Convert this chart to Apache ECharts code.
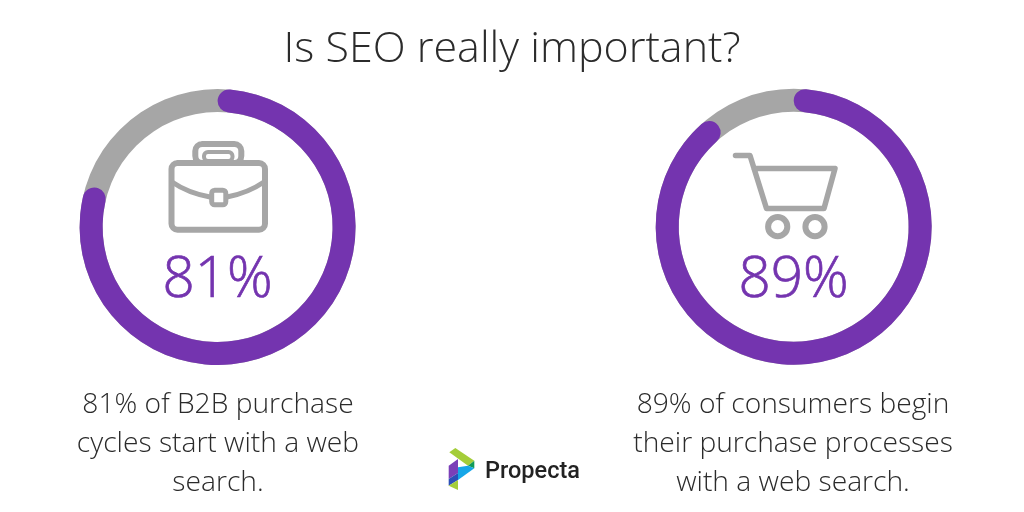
<!DOCTYPE html>
<html>
<head>
<meta charset="utf-8">
<style>html,body{margin:0;padding:0;background:#fff}#main{width:1024px;height:512px}</style>
<script src="https://cdn.jsdelivr.net/npm/echarts@6/dist/echarts.min.js"></script>
</head>
<body>
<div id="main"></div>
<script>
var chartTitle = 'Is SEO really important?';
// arcs as drawn in the picture, the printed labels round them to the stated figures
var arcShares = [80, 89.8];
var shareLabels = ['81%', '89%'];
var captions = [
	'81% of B2B purchase\ncycles start with a web\nsearch.',
	'89% of consumers begin\ntheir purchase processes\nwith a web search.'
];
var brand = 'Propecta';

var PURPLE = '#7434af', GREY = '#a6a6a6', INK = '#2b2b2b';
var FONT = '"Open Sans", sans-serif';
var centers = [[217.6, 227], [793.7, 226.7]];

var myChart = echarts.init(document.getElementById('main'));

var series = [];
arcShares.forEach(function(v, i){
	// grey track first, the purple arc on top with rounded ends
	series.push({
		type: 'pie', silent: true, center: centers[i], radius: [115, 138],
		label: {show: false}, labelLine: {show: false},
		itemStyle: {color: GREY},
		data: [{value: 100}]
	});
	series.push({
		type: 'pie', silent: true, center: centers[i], radius: [115, 138],
		startAngle: 90, clockwise: true,
		label: {show: false}, labelLine: {show: false},
		data: [
			{value: v, itemStyle: {color: PURPLE, borderRadius: 12}},
			{value: 100 - v, itemStyle: {color: 'transparent'}}
		]
	});
});

function lineStyle(width){
	return {fill: 'none', stroke: GREY, lineWidth: width, lineJoin: 'round', lineCap: 'round'};
}
function box(x, y, w, h, r, width){
	return {type: 'rect', shape: {x: x, y: y, width: w, height: h, r: r}, style: lineStyle(width)};
}
function curve(x1, y1, cx, cy, x2, y2, width){
	return {type: 'bezierCurve', shape: {x1: x1, y1: y1, cpx1: cx, cpy1: cy, x2: x2, y2: y2}, style: lineStyle(width)};
}
function ring(cx, cy, r, width){
	return {type: 'circle', shape: {cx: cx, cy: cy, r: r}, style: lineStyle(width)};
}
function poly(points, color){
	return {type: 'polygon', shape: {points: points}, style: {fill: color}};
}
function text(str, x, y, size, color, weight, lineHeight, strokeWidth){
	return {type: 'text', x: x, y: y, style: {
		text: str, fill: color, font: weight + ' ' + size + 'px ' + FONT,
		textAlign: 'center', textVerticalAlign: 'middle', lineHeight: lineHeight,
		stroke: strokeWidth ? color : null, lineWidth: strokeWidth || 0
	}};
}

var briefcase = [
	box(195.3, 144, 46, 19, 7, 6),
	box(204, 152, 28.5, 9, 4, 4),
	box(171.5, 163, 93.5, 66.7, 6, 6),
	curve(172, 182, 188, 193, 210, 197, 5),
	curve(227, 197, 248, 193, 264, 182, 5),
	box(211.7, 190.2, 14.1, 14.6, 3, 5)
];
var cart = [
	{type: 'polyline', shape: {points: [[735.5, 155.5], [750, 155.5], [766.5, 208.5], [824, 208.5], [835, 168.5], [754, 168.5]]}, style: lineStyle(5.5)},
	ring(777.7, 226.7, 9.6, 6),
	ring(815, 226.7, 9.6, 6)
];
var logo = [
	poly([[449.3, 452.3], [455.3, 448], [474.3, 460.7], [468, 465.7]], '#a4cd39'),
	poly([[468, 465.7], [474.3, 460.7], [474.3, 468.3]], '#109a58'),
	poly([[458, 467.3], [468, 465.7], [474.3, 468.3], [458, 480]], '#16a6e8'),
	poly([[448.7, 465.7], [458, 459], [458, 473], [448.7, 479]], '#7b3fb8'),
	poly([[448.7, 479], [458, 473], [458, 480], [448.7, 485.7]], '#2b4fb8'),
	poly([[448.7, 485.7], [458, 480], [458, 490]], '#a4cd39')
];

var labels = [
	text(shareLabels[0], 217.5, 281, 56.5, PURPLE, 300, undefined, 0.7),
	text(shareLabels[1], 793.5, 281, 56.5, PURPLE, 300, undefined, 0.7),
	text(captions[0], 218, 443.5, 28.2, INK, 300, 39),
	text(captions[1], 793, 444, 28.2, INK, 300, 39),
	{type: 'text', x: 485, y: 472, style: {
		text: brand, fill: '#222', font: '500 23.5px Roboto, sans-serif',
		textAlign: 'left', textVerticalAlign: 'middle'
	}}
];

myChart.setOption({
	animation: false,
	backgroundColor: '#fff',
	title: {
		text: chartTitle, left: 'center', top: 23,
		textStyle: {fontFamily: FONT, fontSize: 43, fontWeight: 300, color: INK}
	},
	series: series,
	graphic: {elements: briefcase.concat(cart, logo, labels)}
});
window.onresize = myChart.resize;
</script>
</body>
</html>
